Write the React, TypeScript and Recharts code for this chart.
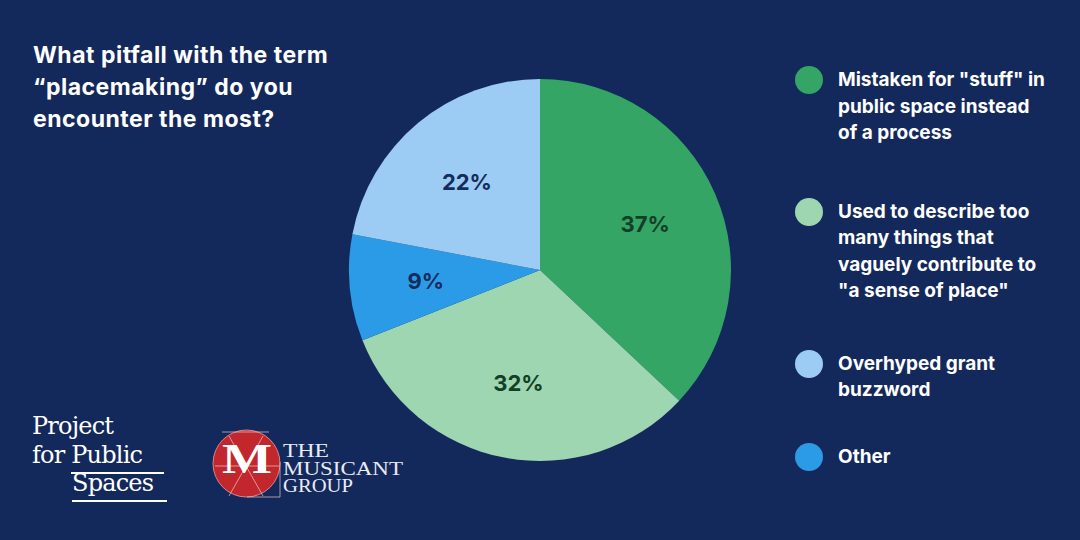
import { PieChart, Pie, Cell, Legend } from 'recharts'

const categories = [
  'Mistaken for "stuff" in\npublic space instead\nof a process',
  'Used to describe too\nmany things that\nvaguely contribute to\n"a sense of place"',
  'Overhyped grant\nbuzzword',
  'Other',
]
const shares = [37, 32, 22, 9]
const sliceOrder = [0, 1, 3, 2] // clockwise from 12 o'clock: green, light green, blue, light blue
const sliceColors = ['#34a565', '#9dd6b1', '#9ccbf3', '#2c9be7']
const labelColors = ['#143f27', '#143f27', '#142d5c', '#142d5c']
const titleLines = ['What pitfall with the term', '\u201cplacemaking\u201d do you', 'encounter the most?']

const BG = '#14295b'
const RADIAN = Math.PI / 180
const legendGaps = [52, 46, 40, 0]

const pieData = sliceOrder.map((i) => ({
  name: categories[i],
  value: shares[i],
  color: sliceColors[i],
  labelColor: labelColors[i],
}))

const renderLabel = (props: any) => {
  const { cx, cy, midAngle, outerRadius, index } = props
  const r = outerRadius * 0.6
  const x = cx + r * Math.cos(-midAngle * RADIAN)
  const y = cy + r * Math.sin(-midAngle * RADIAN)
  return (
    <text
      x={x}
      y={y}
      fill={pieData[index].labelColor}
      textAnchor="middle"
      dominantBaseline="central"
      fontFamily="Inter, sans-serif"
      fontWeight={700}
      fontSize={22}
    >
      {`${pieData[index].value}%`}
    </text>
  )
}

function LegendList() {
  return (
    <div style={{ display: 'flex', flexDirection: 'column' }}>
      {categories.map((name, i) => (
        <div key={i} style={{ display: 'flex', alignItems: 'flex-start', marginBottom: legendGaps[i] }}>
          <div
            style={{
              width: 28,
              height: 28,
              borderRadius: 14,
              background: sliceColors[i],
              marginRight: 15,
              flexShrink: 0,
              marginTop: -1,
            }}
          />
          <div
            style={{
              whiteSpace: 'pre-line',
              color: '#ffffff',
              fontFamily: 'Inter, sans-serif',
              fontWeight: 700,
              fontSize: 19,
              lineHeight: '26.5px',
            }}
          >
            {name}
          </div>
        </div>
      ))}
    </div>
  )
}

function Logos() {
  return (
    <>
      <div
        style={{
          position: 'absolute',
          left: 32,
          top: 412,
          color: '#ffffff',
          fontFamily: '"DejaVu Serif", serif',
          fontSize: 24,
          lineHeight: '28.5px',
          letterSpacing: -0.8,
        }}
      >
        <div>Project</div>
        <div>
          for <span style={{ borderBottom: '2px solid #fff', paddingRight: 22, paddingBottom: 3 }}>Public</span>
        </div>
        <div style={{ marginLeft: 40 }}>
          <span style={{ borderBottom: '2px solid #fff', paddingRight: 14, paddingBottom: 3 }}>Spaces</span>
        </div>
      </div>
      <svg width={210} height={90} style={{ position: 'absolute', left: 205, top: 420 }}>
        <circle cx={41.5} cy={43.5} r={33.5} fill="#c1272d" stroke="#e7a0a0" strokeWidth={0.8} />
        <g stroke="#f1c5c5" strokeWidth={0.7} fill="none">
          <line x1={24} y1={16} x2={58} y2={76} />
          <line x1={58} y1={16} x2={24} y2={76} />
          <line x1={10} y1={46} x2={74} y2={46} />
          <line x1={75} y1={42} x2={75} y2={77} />
          <line x1={42} y1={77} x2={75} y2={77} />
          <line x1={17} y1={12} x2={64} y2={12} />
        </g>
        <text
          x={17}
          y={53}
          fill="#ffffff"
          fontFamily='"Liberation Serif", serif'
          fontSize={42}
          fontWeight={700}
          textLength={50}
          lengthAdjust="spacingAndGlyphs"
        >
          M
        </text>
        <g fill="#e9ebf3" fontFamily='"Liberation Serif", serif' fontSize={19}>
          <text x={78} y={37} textLength={46} lengthAdjust="spacingAndGlyphs">THE</text>
          <text x={78} y={55} textLength={120} lengthAdjust="spacingAndGlyphs">MUSICANT</text>
          <text x={78} y={72} textLength={70} lengthAdjust="spacingAndGlyphs">GROUP</text>
        </g>
      </svg>
    </>
  )
}

export default function App() {
  return (
    <div style={{ position: 'relative', width: 1080, height: 540, background: BG, overflow: 'hidden' }}>
      <style>{'body{margin:0}'}</style>
      <div
        style={{
          position: 'absolute',
          left: 33,
          top: 39,
          color: '#ffffff',
          fontFamily: 'Inter, sans-serif',
          fontWeight: 700,
          fontSize: 23,
          lineHeight: '32px',
          letterSpacing: 0.5,
        }}
      >
        {titleLines.map((t) => (
          <div key={t}>{t}</div>
        ))}
      </div>
      <PieChart
        width={1080}
        height={540}
        margin={{ top: 0, right: 0, bottom: 0, left: 0 }}
        style={{ position: 'absolute', left: 0, top: 0 }}
      >
        <Pie
          data={pieData}
          dataKey="value"
          nameKey="name"
          cx={540}
          cy={270}
          outerRadius={191}
          startAngle={90}
          endAngle={-270}
          stroke="none"
          label={renderLabel}
          labelLine={false}
          isAnimationActive={false}
        >
          {pieData.map((d, i) => (
            <Cell key={i} fill={d.color} />
          ))}
        </Pie>
        <Legend
          content={() => <LegendList />}
          wrapperStyle={{ position: 'absolute', left: 795, top: 67, width: 280, height: 410 }}
        />
      </PieChart>
      <Logos />
    </div>
  )
}
